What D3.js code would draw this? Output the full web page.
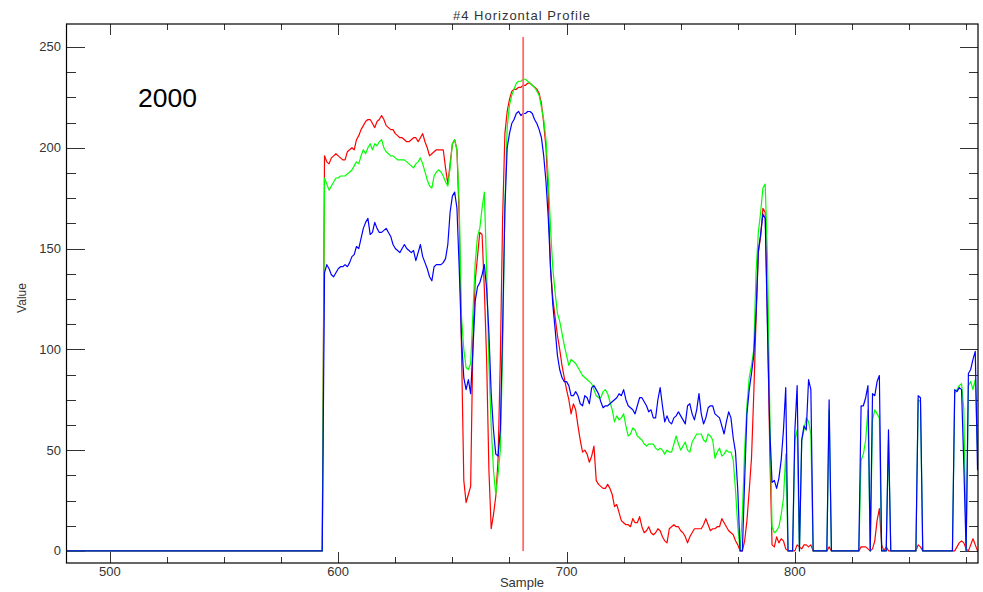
<!DOCTYPE html>
<html><head><meta charset="utf-8">
<script src="https://cdn.jsdelivr.net/npm/d3@7"></script>
<style>body{margin:0;background:#fff}svg{display:block}</style>
</head><body>
<svg id="c" width="983" height="592"></svg>
<script>
const chartTitle = "#4 Horizontal Profile";
const xLabel = "Sample";
const yLabel = "Value";
const yearLabel = "2000";
const xMajorTicks = [500, 600, 700, 800];
const yMajorTicks = [0, 50, 100, 150, 200, 250];
const markerSample = 681;
const markerTop = 255;

const redProfile = [[481,0],[593,0],[594,196],[595,193],[596,192],[597,195],[598,196],[599,197],[600,196],[601,195],[602,194],[603,194],[604,198],[605,199],[606,200],[607,199],[608,204],[609,206],[610,209],[611,211],[612,213],[613,214],[614,214],[615,212],[616,210],[617,213],[618,214],[619,216],[620,214],[621,211],[622,210],[623,209],[624,209],[625,207],[626,206],[627,205],[628,205],[629,204],[630,203],[631,203],[632,204],[633,205],[634,205],[635,203],[636,205],[637,207],[638,203],[639,200],[640,196],[641,197],[642,198],[643,199],[644,199],[645,199],[646,199],[647,190],[648,182],[649,192],[650,202],[651,204],[652,199],[653,165],[654,100],[655,35],[656,24],[657,28],[658,32],[659,105],[660,134],[661,146],[662,158],[663,157],[664,130],[665,95],[666,40],[667,11],[668,18],[669,27],[670,45],[671,95],[672,165],[673,207],[674,218],[675,224],[676,228],[677,229],[678,229],[679,230],[680,230],[681,231],[682,231],[683,232],[684,232],[685,231],[686,230],[687,229],[688,227],[689,222],[690,212],[691,200],[692,176],[693,140],[694,125],[695,116],[696,107],[697,100],[698,92],[699,86],[700,80],[701,75],[702,68],[703,73],[704,70],[705,62],[706,55],[707,49],[708,50],[709,48],[710,44],[711,47],[712,52],[713,35],[714,33],[715,32],[716,31],[717,31],[718,33],[719,31],[720,28],[721,22],[722,23],[723,19],[724,15],[725,14],[726,13],[727,13],[728,12],[729,16],[730,14],[731,14],[732,17],[733,12],[734,9],[735,10],[736,12],[737,9],[738,8],[739,9],[740,11],[741,10],[742,7],[743,5],[744,4],[745,11],[746,12],[747,13],[748,12],[749,12],[750,10],[751,9],[752,7],[753,4],[754,7],[755,9],[756,11],[757,11],[758,11],[759,11],[760,13],[761,16],[762,13],[763,10],[764,11],[765,11],[766,12],[767,12],[768,16],[769,14],[770,12],[771,10],[772,9],[773,8],[774,5],[775,3],[776,0],[777,0],[778,5],[779,15],[780,30],[781,46],[782,78],[783,115],[784,148],[785,156],[786,170],[787,168],[788,115],[789,50],[790,3],[791,2],[792,7],[793,4],[794,6],[795,5],[796,1],[797,0],[800,0],[801,3],[802,2],[803,1],[804,3],[805,3],[806,2],[807,3],[808,0],[814,0],[815,2],[816,0],[828,0],[829,2],[830,2],[831,2],[832,1],[833,0],[834,1],[835,5],[836,15],[837,21],[838,3],[839,0],[840,2],[841,0],[853,0],[854,3],[855,2],[856,0],[870,0],[871,2],[872,4],[873,5],[874,4],[875,1],[876,0],[877,3],[878,6],[879,3],[880,0]];

const greenProfile = [[481,0],[593,0],[594,185],[595,182],[596,179],[597,181],[598,183],[599,185],[600,185],[601,186],[602,186],[603,186],[604,187],[605,188],[606,189],[607,191],[608,193],[609,192],[610,196],[611,199],[612,197],[613,200],[614,202],[615,199],[616,202],[617,201],[618,203],[619,204],[620,200],[621,198],[622,197],[623,196],[624,196],[625,195],[626,194],[627,194],[628,194],[629,194],[630,193],[631,192],[632,191],[633,190],[634,192],[635,193],[636,195],[637,192],[638,188],[639,184],[640,181],[641,180],[642,186],[643,188],[644,189],[645,188],[646,186],[647,183],[648,181],[649,190],[650,202],[651,204],[652,199],[653,172],[654,116],[655,100],[656,91],[657,90],[658,93],[659,118],[660,143],[661,156],[662,160],[663,170],[664,178],[665,140],[666,93],[667,62],[668,40],[669,28],[670,38],[671,50],[672,100],[673,172],[674,210],[675,221],[676,226],[677,229],[678,232],[679,233],[680,233],[681,234],[682,234],[683,233],[684,232],[685,231],[686,230],[687,228],[688,226],[689,220],[690,214],[691,204],[692,185],[693,160],[694,140],[695,128],[696,118],[697,114],[698,108],[699,102],[700,97],[701,92],[702,95],[703,94],[704,93],[705,91],[706,89],[707,87],[708,86],[709,85],[710,84],[711,83],[712,80],[713,77],[714,76],[715,76],[716,79],[717,80],[718,78],[719,74],[720,70],[721,64],[722,67],[723,65],[724,66],[725,68],[726,62],[727,57],[728,58],[729,61],[730,60],[731,57],[732,56],[733,55],[734,53],[735,52],[736,53],[737,53],[738,53],[739,51],[740,50],[741,51],[742,50],[743,48],[744,50],[745,49],[746,49],[747,53],[748,57],[749,53],[750,50],[751,52],[752,54],[753,50],[754,49],[755,54],[756,56],[757,58],[758,58],[759,58],[760,55],[761,54],[762,58],[763,57],[764,55],[765,46],[766,49],[767,51],[768,47],[769,48],[770,50],[771,49],[772,49],[773,45],[774,30],[775,12],[776,0],[777,18],[778,50],[779,72],[780,86],[781,92],[782,100],[783,138],[784,158],[785,168],[786,180],[787,182],[788,145],[789,70],[790,12],[791,9],[792,10],[793,12],[794,18],[795,26],[796,48],[797,0],[799,0],[800,55],[801,60],[802,0],[803,55],[804,60],[805,66],[806,64],[807,58],[808,0],[814,0],[815,70],[816,0],[828,0],[829,45],[830,48],[831,55],[832,70],[833,0],[834,65],[835,70],[836,68],[837,66],[838,0],[840,0],[841,55],[842,0],[853,0],[854,75],[855,74],[856,0],[869,0],[870,78],[871,80],[872,82],[873,83],[874,70],[875,0],[876,82],[877,84],[878,80],[879,85],[880,50]];

const blueProfile = [[481,0],[593,0],[594,138],[595,142],[596,140],[597,137],[598,136],[599,138],[600,140],[601,141],[602,141],[603,142],[604,141],[605,143],[606,146],[607,147],[608,151],[609,150],[610,155],[611,160],[612,163],[613,165],[614,157],[615,158],[616,163],[617,160],[618,158],[619,158],[620,159],[621,160],[622,158],[623,156],[624,152],[625,150],[626,149],[627,148],[628,150],[629,152],[630,150],[631,149],[632,148],[633,149],[634,144],[635,148],[636,152],[637,146],[638,143],[639,140],[640,136],[641,134],[642,141],[643,142],[644,142],[645,142],[646,143],[647,145],[648,152],[649,168],[650,176],[651,178],[652,170],[653,140],[654,105],[655,86],[656,80],[657,85],[658,78],[659,100],[660,124],[661,131],[662,133],[663,137],[664,142],[665,130],[666,108],[667,78],[668,60],[669,48],[670,47],[671,60],[672,110],[673,170],[674,200],[675,207],[676,212],[677,214],[678,217],[679,218],[680,216],[681,217],[682,217],[683,218],[684,218],[685,217],[686,214],[687,212],[688,209],[689,205],[690,196],[691,183],[692,165],[693,140],[694,122],[695,110],[696,97],[697,90],[698,86],[699,84],[700,84],[701,82],[702,77],[703,77],[704,79],[705,77],[706,73],[707,72],[708,77],[709,76],[710,73],[711,81],[712,82],[713,80],[714,78],[715,74],[716,71],[717,72],[718,72],[719,73],[720,74],[721,75],[722,76],[723,78],[724,77],[725,80],[726,75],[727,72],[728,71],[729,70],[730,68],[731,72],[732,76],[733,76],[734,74],[735,72],[736,69],[737,70],[738,66],[739,66],[740,75],[741,81],[742,72],[743,64],[744,67],[745,64],[746,63],[747,66],[748,67],[749,69],[750,67],[751,65],[752,63],[753,72],[754,73],[755,68],[756,65],[757,70],[758,78],[759,68],[760,63],[761,66],[762,71],[763,72],[764,72],[765,68],[766,67],[767,66],[768,62],[769,58],[770,64],[771,69],[772,66],[773,56],[774,49],[775,30],[776,0],[777,0],[778,35],[779,68],[780,80],[781,88],[782,97],[783,118],[784,149],[785,157],[786,167],[787,165],[788,110],[789,60],[790,34],[791,35],[792,31],[793,36],[794,45],[795,60],[796,81],[797,0],[799,0],[800,60],[801,82],[802,0],[803,55],[804,62],[805,60],[806,85],[807,80],[808,0],[814,0],[815,75],[816,0],[828,0],[829,72],[830,72],[831,76],[832,82],[833,0],[834,78],[835,77],[836,84],[837,87],[838,0],[840,0],[841,60],[842,0],[853,0],[854,77],[855,76],[856,0],[869,0],[870,80],[871,79],[872,81],[873,80],[874,42],[875,0],[876,88],[877,90],[878,95],[879,99],[880,40]];

const seriesList = [
  {data: redProfile, color: "#ff0000"},
  {data: greenProfile, color: "#00ff00"},
  {data: blueProfile, color: "#0000ff"}
];

const L = 66.5, R = 978, T = 24, B = 563;
const x = d3.scaleLinear().domain([481, 880.2]).range([L, R]);
const y = d3.scaleLinear().domain([-6, 261.4]).range([B, T]);
const svg = d3.select("#c");

svg.append("defs").append("clipPath").attr("id","clip")
  .append("rect").attr("x",L).attr("y",T).attr("width",R-L).attr("height",B-T);

const xMinor = d3.range(500, 881, 25);
const yMinor = d3.range(0, 251, 12.5);
const tickColor = "#333";
const font = "'Liberation Sans', Arial, sans-serif";

// ticks
const tk = svg.append("g").attr("stroke", tickColor).attr("stroke-width", 1).attr("shape-rendering","crispEdges");
xMinor.forEach(v => {
  const len = xMajorTicks.includes(v) ? 11 : 6;
  const px = Math.round(x(v)) + 0.5;
  tk.append("line").attr("x1",px).attr("x2",px).attr("y1",B).attr("y2",B-len);
  tk.append("line").attr("x1",px).attr("x2",px).attr("y1",T).attr("y2",T+len);
});
yMinor.forEach(v => {
  const len = yMajorTicks.includes(v) ? 18 : 9;
  const py = Math.round(y(v)) + 0.5;
  tk.append("line").attr("x1",L).attr("x2",L+len).attr("y1",py).attr("y2",py);
  tk.append("line").attr("x1",R).attr("x2",R-len).attr("y1",py).attr("y2",py);
});

// lines
const line = d3.line().x(d => x(d[0])).y(d => y(d[1]));
const lg = svg.append("g").attr("clip-path","url(#clip)");
seriesList.forEach(s => {
  lg.append("path").datum(s.data).attr("d", line)
    .attr("fill","none").attr("stroke", s.color).attr("stroke-width", 1.2)
    .attr("stroke-linejoin","round");
});
// marker
lg.append("line")
  .attr("x1", x(markerSample)).attr("x2", x(markerSample))
  .attr("y1", y(0)).attr("y2", y(markerTop))
  .attr("stroke", "#ff6a6a").attr("stroke-width", 1.8);

// frame
svg.append("rect").attr("x",L).attr("y",T).attr("width",R-L).attr("height",B-T)
  .attr("fill","none").attr("stroke","#000").attr("stroke-width",1.2);

// tick labels
svg.append("g").selectAll("text").data(xMajorTicks).join("text")
  .attr("x", d => x(d)).attr("y", 576).attr("text-anchor","middle")
  .attr("font-family", font).attr("font-size", 13).attr("fill", "#333").text(d => d);
svg.append("g").selectAll("text").data(yMajorTicks).join("text")
  .attr("x", 61).attr("y", d => y(d) + 4.5).attr("text-anchor","end")
  .attr("font-family", font).attr("font-size", 13).attr("fill", "#333").text(d => d);

// titles
svg.append("text").attr("x", 522).attr("y", 20).attr("text-anchor","middle")
  .attr("font-family", font).attr("font-size", 13).attr("letter-spacing", 1)
  .attr("fill","#333").text(chartTitle);
svg.append("text").attr("x", 522).attr("y", 587).attr("text-anchor","middle")
  .attr("font-family", font).attr("font-size", 13).attr("fill","#333").text(xLabel);
svg.append("text").attr("transform","translate(26,298) rotate(-90)").attr("text-anchor","middle")
  .attr("font-family", font).attr("font-size", 12).attr("fill","#333").text(yLabel);
svg.append("text").attr("x", 138).attr("y", 107)
  .attr("font-family", font).attr("font-size", 26.5).attr("fill","#000").text(yearLabel);
</script>
</body></html>
